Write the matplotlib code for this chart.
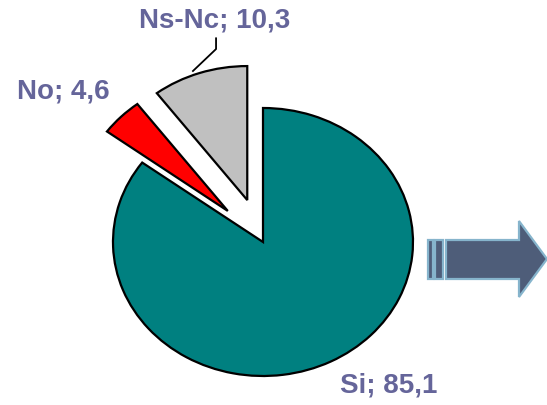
import matplotlib
matplotlib.use("Agg")
import matplotlib.pyplot as plt
from matplotlib.patches import Polygon, Rectangle

labels = ["Si", "No", "Ns-Nc"]
values = [85.1, 4.6, 10.3]
colors = ["#008080", "#FF0000", "#C0C0C0"]
explode = [0, 0.33, 0.33]

W, H = 547, 406
# pie centre and radii in pixels (the original pie is a bit stretched horizontally)
cx, cy, rx, ry = 263, 243, 150, 134

fig = plt.figure(figsize=(W / 100, H / 100), dpi=100)
ax = fig.add_axes([0, 0, 1, 1])

ax.pie(values, colors=colors, explode=explode, startangle=90, counterclock=False,
       wedgeprops=dict(edgecolor="black", linewidth=1.6))
ax.set_aspect("auto")
ax.set_xlim(-cx / rx, (W - cx) / rx)
ax.set_ylim(-(H - cy) / ry, cy / ry)
ax.axis("off")

txt = dict(color="#65659A", fontsize=20, fontweight="bold", family="Liberation Sans",
           ha="center", va="center")
label_pos = [(0.84, -1.06), (-1.33, 1.13), (-0.32, 1.66)]
for name, v, (x, y) in zip(labels, values, label_pos):
    ax.text(x, y, f"{name}; {v}".replace(".", ","), **txt)

# leader line for Ns-Nc
ax.plot([-0.313, -0.313, -0.467], [1.52, 1.44, 1.276], color="black", lw=1.3)

# big arrow on the right
def px(x, y):
    return (x / W, 1 - y / H)

face, edge = "#4E5D79", "#86B4CC"
arrow = Polygon([px(446, 241), px(519, 241), px(519, 222), px(547, 260),
                 px(519, 298), px(519, 280), px(446, 280)],
                closed=True, transform=ax.transAxes, facecolor=face, edgecolor=edge,
                lw=1.6, clip_on=False)
ax.add_patch(arrow)
for x0, w in [(428, 5), (435, 8)]:
    ax.add_patch(Rectangle(px(x0, 280), w / W, 39 / H, transform=ax.transAxes,
                           facecolor=face, edgecolor=edge, lw=1.6))

fig.savefig("out.png", dpi=100)
